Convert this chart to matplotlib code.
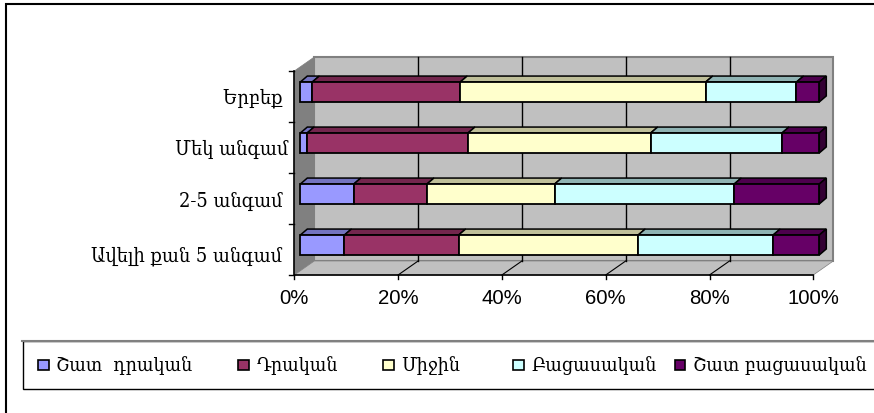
import matplotlib
matplotlib.use('Agg')
import matplotlib.pyplot as plt
from matplotlib.patches import Polygon, Rectangle
from matplotlib.lines import Line2D
from matplotlib.transforms import ScaledTranslation, IdentityTransform

# data, percent of each answer per row (top to bottom)
categories = ['Երբեք ', 'Մեկ անգամ', '2-5 անգամ ', 'Ավելի քան 5 անգամ ']
series_names = ['Շատ  դրական', 'Դրական', 'Միջին', 'Բացասական', 'Շատ բացասական']
very_positive = [2.3, 1.3, 10.3, 8.5]
positive = [28.5, 31.0, 14.1, 22.0]
medium = [47.3, 35.2, 24.6, 34.6]
negative = [17.5, 25.3, 34.6, 26.0]
very_negative = [4.4, 7.2, 16.4, 8.9]
series_values = [very_positive, positive, medium, negative, very_negative]
x_ticks = [0, 20, 40, 60, 80, 100]
x_labels = ['0%', '20%', '40%', '60%', '80%', '100%']

front_colors = ['#9999ff', '#993366', '#ffffcc', '#ccffff', '#660066']
top_colors = ['#7373bf', '#73264d', '#bfbf99', '#8fb3b3', '#4d004d']
side_colors = ['#4d4d80', '#4d1a33', '#808066', '#668080', '#330033']

W, H = 874, 414
fig = plt.figure(figsize=(W / 100, H / 100), dpi=100, facecolor='white')
ax = fig.add_axes([294.3 / W, 1 - 276 / H, 519 / W, 204 / H])
ax.set_xlim(0, 100)
ax.set_ylim(4, 0)
ax.axis('off')
font_arm = {'family': ['DejaVu Serif'], 'stretch': 'condensed'}


def shifted(dx, dy):
    # pixel offset on top of the data coords, for the fake 3d
    return ax.transData + ScaledTranslation(dx / 100, dy / 100, fig.dpi_scale_trans)


depth = (20, 14)
back = shifted(*depth)
# back wall, side wall, floor
ax.add_patch(Polygon([(0, 0), (100, 0), (100, 4), (0, 4)], transform=back, fc='#c0c0c0', ec='#808080', lw=1.5, clip_on=False))
x0, y0 = ax.transData.transform((0, 0))
x1, y1 = ax.transData.transform((100, 4))
px = IdentityTransform()
ax.add_patch(Polygon([(x0, y0), (x0 + 20, y0 + 14), (x0 + 20, y1 + 14), (x0, y1)], transform=px, fc='#808080', ec='#808080', lw=0.5, clip_on=False))
ax.add_patch(Polygon([(x0, y1), (x1, y1), (x1 + 20, y1 + 14), (x0 + 20, y1 + 14)], transform=px, fc='#c0c0c0', ec='#808080', lw=0.5, clip_on=False))

# gridlines on back wall and floor
for t in x_ticks[1:-1]:
    ax.plot([t, t], [0, 4], color='black', lw=1, transform=back, clip_on=False, zorder=2)
    xt = ax.transData.transform((t, 4))[0]
    ax.plot([xt, xt + 20], [y1, y1 + 14], color='black', lw=0.8, transform=px, clip_on=False, zorder=2)

# axis lines and ticks
ax.plot([0, 0, 100], [0, 4, 4], color='black', lw=1.2, clip_on=False, zorder=3)
for t, lab in zip(x_ticks, x_labels):
    ax.plot([t, t], [4, 4.07], color='black', lw=1, clip_on=False)
    ax.text(t, 4.26, lab, ha='center', va='top', fontsize=14.7, family='Liberation Sans', clip_on=False)
for i in range(5):
    ax.plot([-1.1, 0], [i, i], color='black', lw=1, clip_on=False)

# stacked bars
bar_h = 0.39
bar_off = (6, 4.5)
bar_dx, bar_dy = 7, 6
bar_tr = shifted(*bar_off)
label_nudge = [-0.02, -0.02, 0.0, 0.08]  # the labels are not evenly spaced in the original
for r in range(4):
    left = 0
    yc = r + 0.5
    for s in range(5):
        v = series_values[s][r]
        top = yc - bar_h / 2
        bot = yc + bar_h / 2
        ax.add_patch(Rectangle((left, top), v, bot - top, fc=front_colors[s], ec='black', lw=1.3, transform=bar_tr, clip_on=False, zorder=5))
        (xa, ya) = ax.transData.transform((left, top))
        (xb, yb) = ax.transData.transform((left + v, bot))
        xa += bar_off[0]; xb += bar_off[0]; ya += bar_off[1]; yb += bar_off[1]
        ax.add_patch(Polygon([(xa, ya), (xb, ya), (xb + bar_dx, ya + bar_dy), (xa + bar_dx, ya + bar_dy)], transform=px, fc=top_colors[s], ec='black', lw=1.1, clip_on=False, zorder=4))
        if s == 4:
            ax.add_patch(Polygon([(xb, ya), (xb + bar_dx, ya + bar_dy), (xb + bar_dx, yb + bar_dy), (xb, yb)], transform=px, fc=side_colors[s], ec='black', lw=1.1, clip_on=False, zorder=4))
        left += v
    ax.text(-1.2, yc + 0.03 + label_nudge[r], categories[r], ha='right', va='center', fontsize=14.3, color='black', clip_on=False, **font_arm)

# outer frame
fig.add_artist(Rectangle((6 / W, -5 / H), 880 / W, 414.5 / H, transform=fig.transFigure, fc='none', ec='black', lw=1.5))

# legend drawn by hand to keep Excel's box and spacing
fig.add_artist(Rectangle((22.5 / W, 1 - 390 / H), 870 / W, 48 / H, transform=fig.transFigure, fc='white', ec='black', lw=1))
fig.add_artist(Line2D([22 / W, 1], [1 - 342 / H, 1 - 342 / H], transform=fig.transFigure, color='#808080', lw=1.5))
leg_x = [38, 238.5, 383, 513, 674.5]
for name, col, lx in zip(series_names, front_colors, leg_x):
    fig.add_artist(Rectangle((lx / W, 1 - 371 / H), 10.5 / W, 10.5 / H, transform=fig.transFigure, fc=col, ec='black', lw=1.2))
    fig.text((lx + 18.5) / W, 1 - 365.5 / H, name, ha='left', va='center', fontsize=14, **font_arm)

fig.savefig('out.png', dpi=100)
